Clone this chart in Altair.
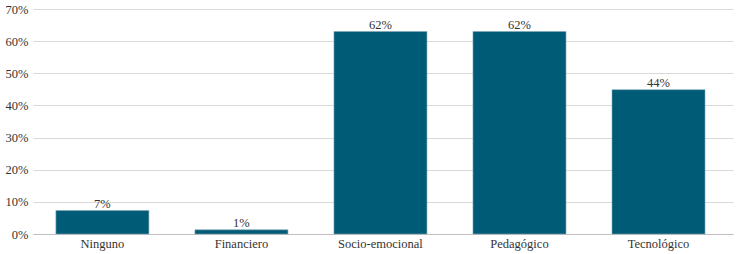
import altair as alt
import pandas as pd

categories = ["Ninguno", "Financiero", "Socio-emocional", "Pedagógico", "Tecnológico"]
values = [0.073, 0.013, 0.63, 0.63, 0.449]
labels = ["7%", "1%", "62%", "62%", "44%"]

df = pd.DataFrame({"cat": categories, "val": values, "lab": labels})

FONT = "Liberation Serif"
TXT = "#333333"

x = alt.X("cat:N", sort=categories, title=None,
          scale=alt.Scale(paddingInner=0.331, paddingOuter=0.183, align=0.45),
          axis=alt.Axis(labelAngle=0, labelFont=FONT, labelFontSize=12.5, labelColor=TXT,
                        ticks=False, domain=True, domainColor="#bfbfbf", labelPadding=3))
y = alt.Y("val:Q", title=None,
          scale=alt.Scale(domain=[0, 0.7], nice=False),
          axis=alt.Axis(format=".0%", values=[0, 0.1, 0.2, 0.3, 0.4, 0.5, 0.6, 0.7],
                        labelFont=FONT, labelFontSize=12.5, labelColor=TXT, labelOverlap=False,
                        ticks=False, domain=False, gridColor="#d9d9d9", labelPadding=5))

base = alt.Chart(df).encode(x=x, y=y)
bars = base.mark_bar(color="#005B76", stroke="#7fa9b8", strokeWidth=0.6)
text = base.mark_text(font=FONT, fontSize=12.5, color=TXT, baseline="bottom", dy=0).encode(text="lab:N")

chart = alt.layer(bars, text).properties(
    width=700, height=225,
    background="white",
    autosize=alt.AutoSizeParams(type="none"),
    padding={"left": 33, "top": 9, "right": 4, "bottom": 20},
).configure_view(stroke=None)

chart.save("out.html", embed_options={"renderer": "svg", "actions": False})
